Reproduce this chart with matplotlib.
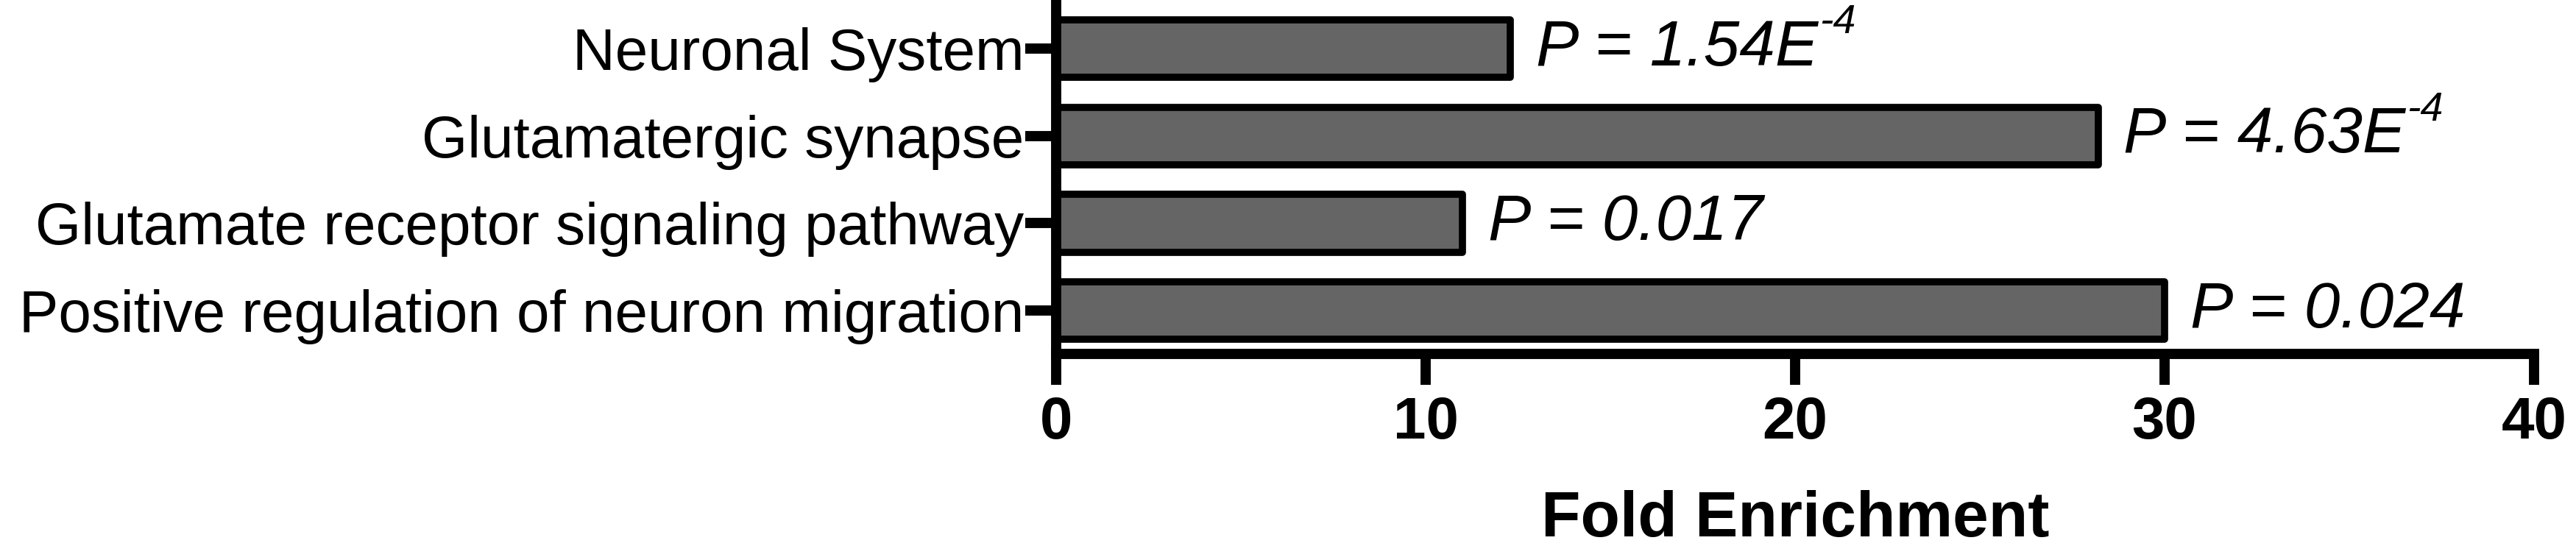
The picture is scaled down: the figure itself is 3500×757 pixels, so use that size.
import numpy as np
import matplotlib
matplotlib.use('Agg')
import matplotlib.pyplot as plt

# Enrichment terms (top to bottom) and their fold enrichment
terms = ["Neuronal System",
         "Glutamatergic synapse",
         "Glutamate receptor signaling pathway",
         "Positive regulation of neuron migration"]
fold_enrichment = [12.3, 28.2, 11.0, 30.0]
# P values: main part and superscript exponent (empty if none)
p_main = ["1.54E", "4.63E", "0.017", "0.024"]
p_exp = ["-4", "-4", "", ""]

x_ticks = [0, 10, 20, 30, 40]

plt.rcParams['font.family'] = ['Liberation Sans', 'DejaVu Sans']


def plot_enrichment():
    fig = plt.figure(figsize=(35, 7.57), dpi=100)
    ax = fig.add_axes([0.41, 0.3646, 0.98371 - 0.41, 1 - 0.3646])

    y = np.arange(len(terms))
    ax.barh(y, fold_enrichment, height=0.66, color='#656565',
            edgecolor='black', linewidth=7, joinstyle='round')

    # P value annotations at the end of each bar
    for yi, val, main, exp in zip(y, fold_enrichment, p_main, p_exp):
        txt = ax.annotate('P = ' + main, xy=(val, yi), xytext=(25, 0),
                          textcoords='offset points', va='center', ha='left',
                          fontsize=63, fontstyle='italic')
        if exp:
            # superscript placed relative to the main text's bounding box
            ax.annotate(exp, xy=(1.0, 1.0), xycoords=txt, xytext=(1, -4),
                        textcoords='offset points', va='center', ha='left',
                        fontsize=40, fontstyle='italic')

    ax.set_xlim(0, 40)
    ax.set_ylim(3.496, -0.556)
    ax.set_yticks(y)
    ax.set_yticklabels(terms, fontsize=57.6)
    ax.set_xticks(x_ticks)
    ax.set_xticklabels([str(t) for t in x_ticks], fontsize=57.6, fontweight='bold')

    ax.spines['top'].set_visible(False)
    ax.spines['right'].set_visible(False)
    for side in ['left', 'bottom']:
        ax.spines[side].set_linewidth(10)

    ax.tick_params(axis='y', length=30, width=10, pad=1.5)
    ax.tick_params(axis='x', length=30, width=10, pad=11)

    ax.set_xlabel('Fold Enrichment', fontsize=63, fontweight='bold', labelpad=38)

    fig.savefig('out.png', dpi=100)


plot_enrichment()
